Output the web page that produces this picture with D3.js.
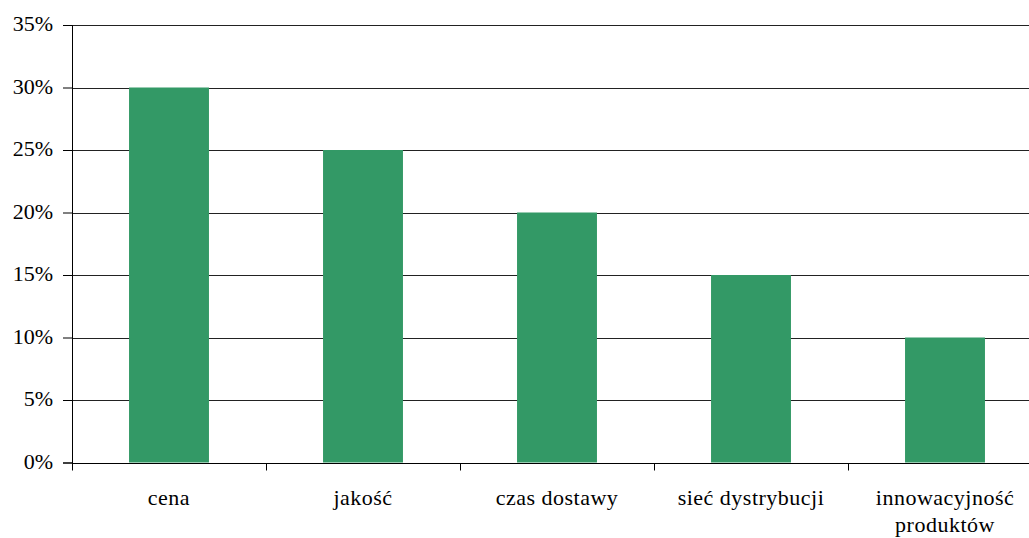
<!DOCTYPE html>
<html><head><meta charset="utf-8">
<script src="https://cdn.jsdelivr.net/npm/d3@7"></script>
<style>
html,body{margin:0;padding:0;background:#fff;overflow:hidden;}
svg{display:block;}
text{font-family:"Liberation Serif","Times New Roman",serif;fill:#000;}
</style></head>
<body>
<script>
const categories = ["cena", "jakość", "czas dostawy", "sieć dystrybucji", "innowacyjność produktów"];
const labelLines = [["cena"], ["jakość"], ["czas dostawy"], ["sieć dystrybucji"], ["innowacyjność", "produktów"]];
const values = [30, 25, 20, 15, 10];
const yTicks = [0, 5, 10, 15, 20, 25, 30, 35];

const W = 1029, H = 538;
const margin = {left: 72, top: 25};
const plotW = 970, plotH = 437.5;

const svg = d3.select("body").append("svg").attr("width", W).attr("height", H);
const g = svg.append("g").attr("transform", `translate(${margin.left},${margin.top})`);

const x = d3.scaleBand().domain(categories).range([0, plotW]).paddingInner(0.588).paddingOuter(0.294);
const xb = d3.scaleBand().domain(categories).range([0, plotW]);
const y = d3.scaleLinear().domain([0, 35]).range([plotH, 0]);

// gridlines
g.selectAll("line.grid").data(yTicks.filter(d => d > 0)).enter().append("line")
  .attr("x1", 0).attr("x2", plotW)
  .attr("y1", d => Math.round(y(d)) + 0.5).attr("y2", d => Math.round(y(d)) + 0.5)
  .attr("stroke", "#222").attr("stroke-width", 1);

// bars
g.selectAll("rect.bar").data(values).enter().append("rect")
  .attr("x", (d, i) => x(categories[i]))
  .attr("width", x.bandwidth())
  .attr("y", d => y(d))
  .attr("height", d => y(0) - y(d))
  .attr("fill", "#339966");

// y axis
const yAxis = d3.axisLeft(y).tickValues(yTicks).tickSize(9).tickPadding(10).tickFormat(d => d + "%");
const ya = g.append("g").call(yAxis);
ya.select(".domain").attr("stroke", "#000");
ya.selectAll(".tick line").attr("stroke", "#000");
ya.selectAll(".tick text").style("font-size", "22px").attr("dy", "0.25em").attr("fill", "#000");

// x axis line
const base = Math.round(y(0)) + 0.5;
g.append("line").attr("x1", 0).attr("x2", plotW).attr("y1", base).attr("y2", base).attr("stroke", "#000");
// category ticks at band boundaries
const bounds = categories.map(c => xb(c)).concat([plotW]);
g.selectAll("line.xt").data(bounds).enter().append("line")
  .attr("x1", d => Math.round(d) + 0.5).attr("x2", d => Math.round(d) + 0.5)
  .attr("y1", base).attr("y2", base + 7).attr("stroke", "#000");

// x labels
const lab = g.selectAll("text.xl").data(categories).enter().append("text")
  .attr("text-anchor", "middle")
  .attr("x", c => xb(c) + xb.bandwidth() / 2)
  .attr("y", 505 - margin.top)
  .style("font-size", "22px")
  .style("letter-spacing", "0.5px");
lab.each(function(c, i) {
  const t = d3.select(this);
  labelLines[i].forEach((l, j) => {
    t.append("tspan").attr("x", xb(c) + xb.bandwidth() / 2).attr("dy", j === 0 ? 0 : 27).text(l);
  });
});
</script>
</body></html>
